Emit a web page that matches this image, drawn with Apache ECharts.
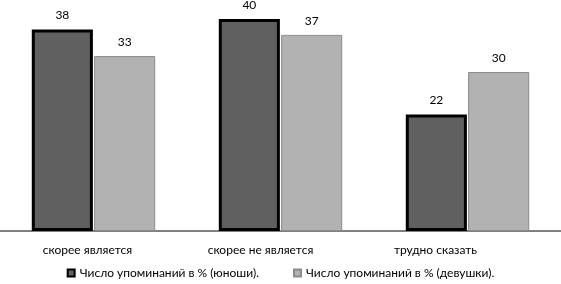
<!DOCTYPE html>
<html><head><meta charset="utf-8">
<script src="https://cdn.jsdelivr.net/npm/echarts@6/dist/echarts.min.js"></script>
<style>html,body{margin:0;padding:0;background:#fff}#c{width:561px;height:284px}</style>
</head><body><div id="c"></div>
<script>
const categories = ['скорее является', 'скорее не является', 'трудно сказать'];
const boys = [38, 40, 22];
const girls = [33, 37, 30];
const seriesNames = ['Число упоминаний в % (юноши).', 'Число упоминаний в % (девушки).'];
const labelShift = [12, 40, 64];

const chart = echarts.init(document.getElementById('c'));
const font = 'Lato, "Open Sans", sans-serif';
chart.setOption({
  animation: false,
  grid: {left: 0, right: 0, top: 19, bottom: 53, containLabel: false},
  legend: {
    bottom: 0, left: 'center', itemGap: 34, itemWidth: 7, itemHeight: 7, icon: 'rect',
    textStyle: {fontFamily: font, fontSize: 12, color: '#000'},
    data: seriesNames
  },
  xAxis: {
    type: 'category',
    data: categories.map((c, i) => ({value: c, textStyle: {padding: [0, labelShift[i], 0, 0]}})),
    axisLine: {lineStyle: {color: '#808080', width: 2}},
    axisTick: {show: false},
    axisLabel: {fontFamily: font, fontSize: 12, color: '#000', margin: 13}
  },
  yAxis: {type: 'value', min: 0, max: 40, show: false, splitLine: {show: false}},
  series: [
    {
      name: seriesNames[0], type: 'bar', data: boys,
      barCategoryGap: '34%', barGap: '2%',
      itemStyle: {color: '#606060', borderColor: '#000', borderWidth: 3},
      label: {show: true, position: 'top', distance: 8, fontFamily: font, fontSize: 12, color: '#000'}
    },
    {
      name: seriesNames[1], type: 'bar', data: girls,
      itemStyle: {color: '#b2b2b2', borderColor: '#8c8c8c', borderWidth: 1},
      label: {show: true, position: 'top', distance: 8, fontFamily: font, fontSize: 12, color: '#000'}
    }
  ]
});
</script></body></html>
